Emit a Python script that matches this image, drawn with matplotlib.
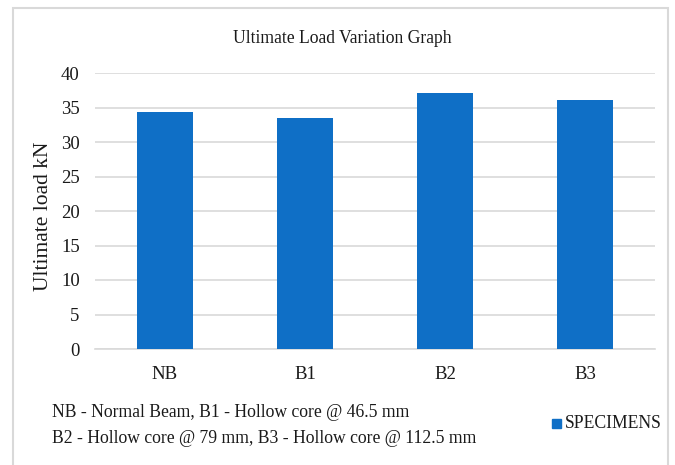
import matplotlib
matplotlib.use("Agg")
import matplotlib.pyplot as plt
from matplotlib.patches import Rectangle

categories = ["NB", "B1", "B2", "B3"]
ultimate_load = [34.4, 33.5, 37.15, 36.1]
yticks = [0, 5, 10, 15, 20, 25, 30, 35, 40]
series_name = "SPECIMENS"
note_lines = [
    "NB - Normal Beam, B1 - Hollow core @ 46.5 mm",
    "B2 - Hollow core @ 79 mm, B3 - Hollow core @ 112.5 mm",
]

plt.rcParams["font.family"] = ["Liberation Serif", "DejaVu Serif"]
BLUE = "#0F6FC6"
TXT = "#1a1a1a"
W, H = 675, 465
FS = 12.7

fig = plt.figure(figsize=(6.75, 4.65), dpi=100)
# chart frame (runs off the bottom edge)
fig.patches.append(Rectangle((13 / W, -0.05), (668 - 13) / W, 1.05 - 8 / H,
                             transform=fig.transFigure, fill=False,
                             edgecolor="#d9d9d9", linewidth=1.5))

ax = fig.add_axes([95 / W, 1 - 349 / H, (655 - 95) / W, (349 - 73) / H])
x = range(len(categories))
ax.bar(x, ultimate_load, width=0.4, color=BLUE, zorder=3)
ax.set_xlim(-0.5, len(categories) - 0.5)
ax.set_ylim(0, 40)
ax.set_yticks(yticks)
ax.set_xticks(list(x))
ax.set_xticklabels(categories)
ax.yaxis.grid(True, color="#d9d9d9", linewidth=1.2, zorder=0)
for s in ["top", "right", "left"]:
    ax.spines[s].set_visible(False)
ax.spines["bottom"].set_color("#d9d9d9")
ax.spines["bottom"].set_linewidth(1.2)
ax.tick_params(axis="both", length=0, labelsize=13.5, colors=TXT)
ax.tick_params(axis="y", pad=11)
ax.tick_params(axis="x", pad=12)

fig.text(44 / W, 1 - 216 / H, "Ultimate load kN", rotation=90, ha="center",
         va="center", fontsize=15.5, color=TXT)
fig.text(342 / W, 1 - 38 / H, "Ultimate Load Variation Graph", ha="center",
         va="center", fontsize=FS, color=TXT)
fig.text(52 / W, 1 - 412 / H, note_lines[0], ha="left", va="center",
         fontsize=FS, color=TXT)
fig.text(52 / W, 1 - 438 / H, note_lines[1], ha="left", va="center",
         fontsize=FS, color=TXT)

fig.patches.append(Rectangle((552 / W, 1 - 428 / H), 9 / W, 9 / H,
                             transform=fig.transFigure, color=BLUE))
fig.text(565 / W, 1 - 423 / H, series_name, ha="left", va="center",
         fontsize=FS, color=TXT)

fig.savefig("out.png", dpi=100)
